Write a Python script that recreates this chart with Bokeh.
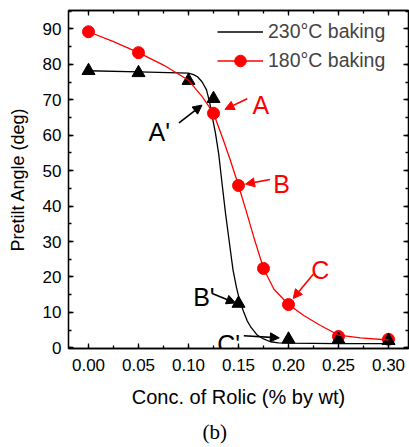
from bokeh.plotting import figure
from bokeh.models import (LinearAxis, SingleIntervalTicker, Legend, LegendItem, Label, Title,
                          Arrow, NormalHead, PrintfTickFormatter, Range1d, CustomJSTickFormatter)
from bokeh.embed import file_html
from bokeh.resources import INLINE

# ---- data ----
conc_230 = [0.00, 0.05, 0.10, 0.125, 0.15, 0.20, 0.25, 0.30]
angle_230 = [78.2, 77.6, 75.4, 70.3, 12.5, 2.4, 2.3, 2.0]

conc_180 = [0.00, 0.05, 0.125, 0.15, 0.175, 0.20, 0.25, 0.30]
angle_180 = [89.2, 83.3, 66.2, 45.8, 22.4, 12.2, 3.2, 2.4]

# fitted curve for 230C
fit_230_x = [0.000, 0.050, 0.100, 0.105, 0.109, 0.1135, 0.118, 0.121, 0.1237, 0.127,
             0.1303, 0.1335, 0.137, 0.1405, 0.1445, 0.148, 0.151, 0.1553, 0.1587,
             0.162, 0.1687, 0.175, 0.182, 0.190, 0.1987, 0.250, 0.300]
fit_230_y = [78.2, 77.9, 77.5, 77.1, 76.5, 75.1, 72.8, 69.5, 65.3, 60.5,
             54.5, 46.5, 38.0, 30.5, 22.0, 17.0, 13.5, 10.0, 7.6,
             6.0, 3.6, 2.5, 1.7, 1.4, 1.3, 1.2, 1.2]

# smooth curve for 180C
curve_180_x = [0.000, 0.025, 0.050, 0.075, 0.100, 0.1137, 0.125, 0.135, 0.142, 0.150,
               0.1575, 0.165, 0.175, 0.1853, 0.200, 0.2153, 0.232, 0.250, 0.272, 0.300]
curve_180_y = [89.2, 86.4, 83.3, 79.8, 75.5, 70.9, 66.2, 58.5, 52.8, 45.8,
               38.8, 31.5, 22.4, 16.6, 12.2, 9.1, 6.3, 3.6, 2.8, 2.2]

x_ticks_interval = 0.05
y_ticks_interval = 10

FONT = "Liberation Sans"

p = figure(frame_width=340, frame_height=338,
           x_range=Range1d(-0.02, 0.32), y_range=Range1d(-0.2, 95.2),
           output_backend="svg", toolbar_location=None,
           min_border_left=68, min_border_right=1, min_border_top=10, min_border_bottom=0,
           x_axis_label="Conc. of Rolic (% by wt)", y_axis_label="Pretilt Angle (deg)")
p.grid.visible = False
p.outline_line_color = "black"
p.outline_line_width = 1.3
p.background_fill_color = "white"
p.border_fill_color = "white"

bottom_axis = p.below[0]
left_axis = p.left[0]

xt = SingleIntervalTicker(interval=x_ticks_interval, num_minor_ticks=2)
yt = SingleIntervalTicker(interval=y_ticks_interval, num_minor_ticks=2)
bottom_axis.ticker = xt
left_axis.ticker = yt
bottom_axis.formatter = PrintfTickFormatter(format="%.2f")

blank = CustomJSTickFormatter(code="return ''")
top_axis = LinearAxis(ticker=xt, formatter=blank, major_label_standoff=0)
right_axis = LinearAxis(ticker=yt, formatter=blank, major_label_standoff=0)
p.add_layout(top_axis, "above")
p.add_layout(right_axis, "right")

for ax in [bottom_axis, left_axis, top_axis, right_axis]:
    ax.axis_line_color = "black"
    ax.axis_line_width = 1.3
    ax.major_tick_in = 5
    ax.major_tick_out = 0
    ax.minor_tick_in = 3
    ax.minor_tick_out = 0
    ax.major_tick_line_color = "black"
    ax.minor_tick_line_color = "black"
    ax.major_tick_line_width = 1.3
    ax.minor_tick_line_width = 1.3

for ax in [bottom_axis, left_axis]:
    ax.major_label_text_font = FONT
    ax.major_label_text_font_size = "17px"
    ax.major_label_text_color = "black"
    ax.axis_label_text_font = FONT
    ax.axis_label_text_font_style = "normal"
    ax.axis_label_text_color = "black"

left_axis.axis_label_text_font_size = "18px"
bottom_axis.axis_label_text_font_size = "20px"
bottom_axis.major_label_standoff = 10
left_axis.major_label_standoff = 7
bottom_axis.axis_label_standoff = 12
left_axis.axis_label_standoff = 12

black_line = p.line(fit_230_x, fit_230_y, line_color="black", line_width=1.3)
red_circ = p.scatter(conc_180, angle_180, marker="circle", size=12,
                     fill_color="red", line_color="red")
p.scatter(conc_230, angle_230, marker="triangle", size=13,
          fill_color="black", line_color="black")
red_line = p.line(curve_180_x, curve_180_y, line_color="red", line_width=1.3)

legend = Legend(items=[LegendItem(label="230°C baking", renderers=[black_line]),
                       LegendItem(label="180°C baking", renderers=[red_line, red_circ])],
                location=(149, 273), glyph_width=46, glyph_height=29, label_standoff=5,
                spacing=0, padding=0, margin=0, border_line_color=None,
                background_fill_alpha=0, label_text_font=FONT,
                label_text_font_size="19.5px", label_height=29)
p.add_layout(legend)

# annotations: letters and arrows
def add_label(x, y, txt, color):
    p.add_layout(Label(x=x, y=y, text=txt, text_color=color, text_font=FONT,
                       text_font_size="25px", text_baseline="alphabetic", text_align="left"))

def add_arrow(x0, y0, x1, y1, color):
    p.add_layout(Arrow(end=NormalHead(size=9, fill_color=color, line_color=color),
                       x_start=x0, y_start=y0, x_end=x1, y_end=y1,
                       line_color=color, line_width=1.6))

add_label(0.164, 68.4, "A", "red")
add_arrow(0.1587, 70.3, 0.1365, 67.3, "red")
add_label(0.060, 60.8, "A'", "black")
add_arrow(0.0905, 63.5, 0.1135, 68.5, "black")
add_label(0.1847, 46.1, "B", "red")
add_arrow(0.1815, 47.5, 0.157, 46.2, "red")
add_label(0.2227, 21.9, "C", "red")
add_arrow(0.2247, 20.75, 0.2047, 13.9, "red")
add_label(0.1047, 14.35, "B'", "black")
add_arrow(0.1237, 15.3, 0.147, 12.65, "black")
add_label(0.1287, 1.2, "C'", "black")
add_arrow(0.1553, 3.4, 0.1908, 2.8, "black")

p.add_layout(Title(text="(b)", text_font="Liberation Serif", text_font_size="21px",
                   text_font_style="normal", text_color="black", align="left",
                   offset=134, standoff=15), "below")

open("out.html", "w").write(file_html(p, INLINE))
